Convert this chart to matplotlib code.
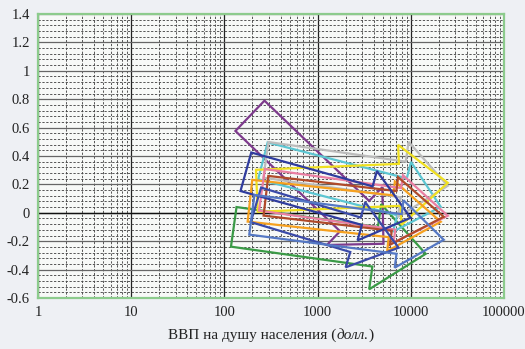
import numpy as np
import matplotlib.pyplot as plt
from matplotlib.patches import Polygon
from matplotlib.ticker import FixedLocator, NullFormatter

# arrows: GDP per capita at start / end and index value at start / end
names   = ["purple", "green", "cyan", "gray", "yellow", "orange", "pink",
           "brown", "navy1", "navy2", "steel"]
x_start = [188, 126, 259, 279, 223, 188, 253, 279, 170, 218, 197]
y_start = [0.683, -0.099, 0.366, 0.373, 0.155, 0.085, 0.162, 0.120, 0.289, 0.056, -0.014]
x_end   = [5093, 14440, 20950, 24920, 24920, 20950, 24920, 22560, 9950, 7390, 22560]
y_end   = [-0.218, -0.289, 0.042, 0.190, 0.211, -0.063, -0.021, -0.028, -0.035, -0.246, -0.190]

colors = {"purple": "#7d3a8c", "green": "#3a9a46", "cyan": "#5cc6d2", "gray": "#bcbcbc",
          "yellow": "#f0e020", "orange": "#f6a11f", "pink": "#ea7fa3", "brown": "#b04a2a",
          "navy1": "#2f3c9e", "navy2": "#3a4aa8", "steel": "#5578c4"}
# shaft half width, head half width, head length (pixels)
shape = {"purple": (21, 40, 40), "green": (20, 43, 51), "cyan": (19, 36, 40),
         "gray": (18, 38, 45), "yellow": (21, 40, 48), "orange": (21, 35, 50),
         "pink": (21, 34, 50), "brown": (20, 34, 50), "navy1": (20, 36, 45),
         "navy2": (18, 34, 45), "steel": (20, 34, 45)}

fig = plt.figure(figsize=(5.25, 3.49), dpi=100, facecolor="#eef0f4")
ax = fig.add_axes([38/525, 1-298/349, 466/525, 284/349])
ax.set_facecolor("#f7f9f7")
ax.set_xscale("log")
ax.set_xlim(1, 100000)
ax.set_ylim(-0.6, 1.4)

ax.xaxis.set_major_locator(FixedLocator([1, 10, 100, 1000, 10000, 100000]))
ax.set_xticklabels(["1", "10", "100", "1000", "10000", "100000"])
ax.xaxis.set_minor_locator(FixedLocator([m * 10**d for d in range(5) for m in range(2, 10)]))
ax.xaxis.set_minor_formatter(NullFormatter())
yt = np.round(np.arange(-0.6, 1.41, 0.2), 1)
ax.yaxis.set_major_locator(FixedLocator(yt))
ax.set_yticklabels(["%g" % v if abs(v) > 1e-9 else "0" for v in yt])
ax.yaxis.set_minor_locator(FixedLocator(np.arange(-0.6, 1.4, 0.04)))

ax.grid(which="minor", color="#4a4a4a", lw=0.65, ls=(0, (2.5, 1.8)))
ax.grid(which="major", axis="x", color="#222222", lw=0.9, ls="-")
ax.grid(which="major", axis="y", color="#666666", lw=0.9, ls="-")
ax.axhline(0, color="#111111", lw=1.0)
ax.tick_params(which="both", length=0, labelsize=10.5, pad=6)
for lab in ax.get_xticklabels() + ax.get_yticklabels():
    lab.set_fontfamily("Liberation Serif")
    lab.set_color("#222222")
for s in ax.spines.values():
    s.set_color("#8ccb8c")
    s.set_linewidth(1.6)

fig.canvas.draw()
for i, n in enumerate(names):
    p0 = ax.transData.transform((x_start[i], y_start[i]))
    p1 = ax.transData.transform((x_end[i], y_end[i]))
    sw, hw, hl = shape[n]
    d = p1 - p0
    u = d / np.hypot(*d)
    nv = np.array([-u[1], u[0]])
    b = p1 - hl * u
    pts = [p0 + sw*nv, b + sw*nv, b + hw*nv, p1, b - hw*nv, b - sw*nv, p0 - sw*nv]
    ax.add_patch(Polygon(pts, closed=True, fill=False, edgecolor=colors[n],
                         lw=1.6, transform=None, clip_on=True, zorder=3))

# x label with italic unit
r = fig.canvas.get_renderer()
t1 = fig.text(0, 0, "ВВП на душу населения (", fontsize=11, family="Liberation Serif")
t2 = fig.text(0, 0, "долл.", fontsize=11, family="Liberation Serif", style="italic")
t3 = fig.text(0, 0, ")", fontsize=11, family="Liberation Serif")
w = [t.get_window_extent(r).width for t in (t1, t2, t3)]
x0 = 271 - sum(w) / 2
for t, wi in zip((t1, t2, t3), w):
    t.set_position((x0 / 525, 1 - 339/349))
    t.set_color("#222222")
    x0 += wi

fig.savefig("out.png", dpi=100, facecolor=fig.get_facecolor())
